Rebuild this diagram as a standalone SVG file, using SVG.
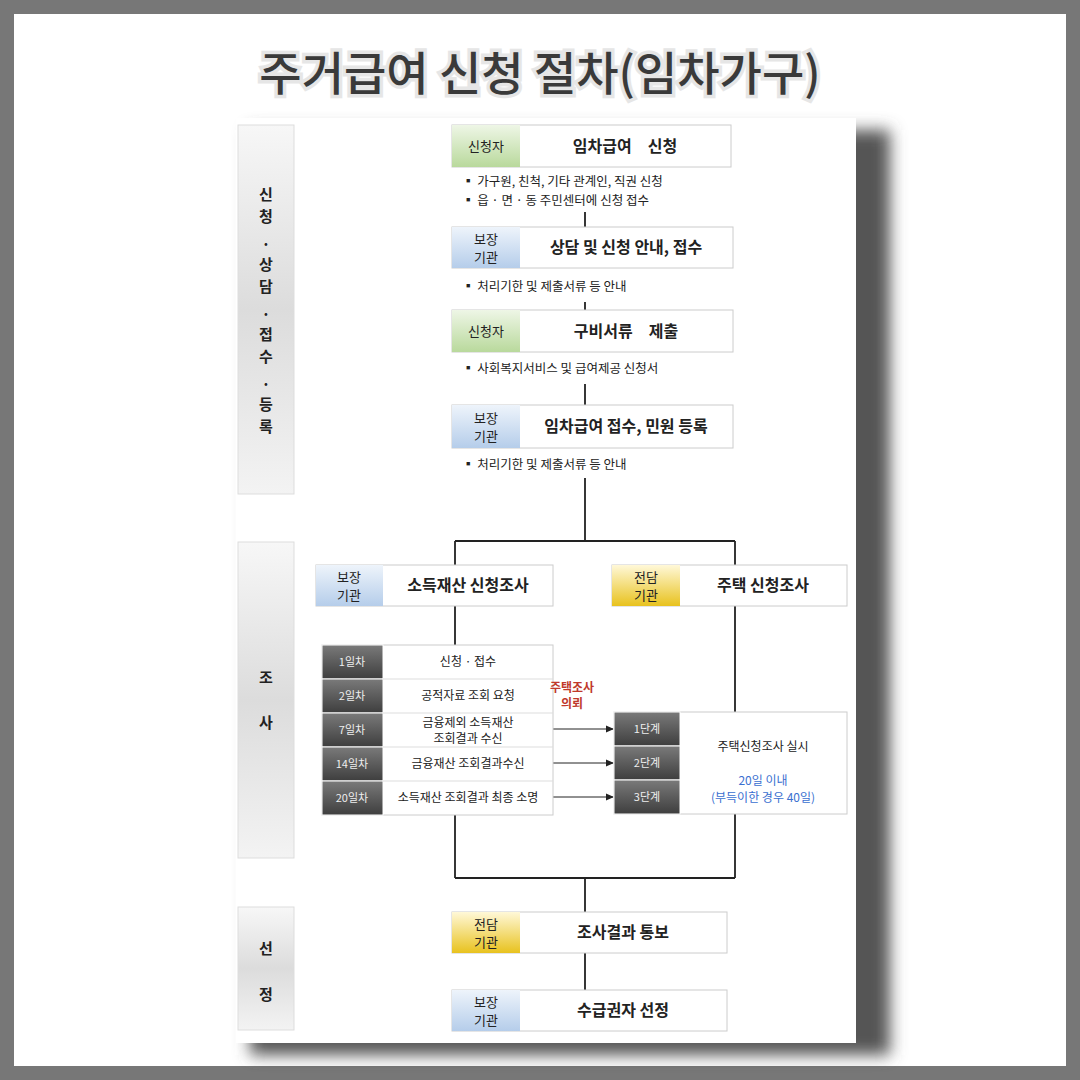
<svg xmlns="http://www.w3.org/2000/svg" width="1080" height="1080" viewBox="0 0 1080 1080">
<defs>
<linearGradient id="gG" x1="0" y1="0" x2="0" y2="1"><stop offset="0" stop-color="#eef6e6"/><stop offset="1" stop-color="#b9d99c"/></linearGradient>
<linearGradient id="gB" x1="0" y1="0" x2="0" y2="1"><stop offset="0" stop-color="#eef4fb"/><stop offset="1" stop-color="#b5cdea"/></linearGradient>
<linearGradient id="gY" x1="0" y1="0" x2="0" y2="1"><stop offset="0" stop-color="#fff8d8"/><stop offset="1" stop-color="#e8c21e"/></linearGradient>
<linearGradient id="gD" x1="0" y1="0" x2="0" y2="1"><stop offset="0" stop-color="#7a7a7a"/><stop offset="1" stop-color="#3e3e3e"/></linearGradient>
<linearGradient id="gP" x1="0" y1="0" x2="0" y2="1"><stop offset="0" stop-color="#f7f7f7"/><stop offset="0.5" stop-color="#dcdcdc"/><stop offset="1" stop-color="#f3f3f3"/></linearGradient>
<filter id="sh" x="-10%" y="-10%" width="130%" height="130%"><feGaussianBlur stdDeviation="8"/></filter>
<marker id="ar" markerWidth="8" markerHeight="8" refX="7" refY="4" orient="auto" markerUnits="userSpaceOnUse"><path d="M0,0.5 L8,4 L0,7.5z" fill="#222"/></marker>
</defs>
<style>
text{font-family:"Noto Sans CJK KR","Noto Sans",sans-serif;fill:#222}
.bx{fill:#fff;stroke:#ccc;stroke-width:1}
.m{font-size:16px;font-weight:bold;text-anchor:middle}
.l{font-size:13px;text-anchor:middle}
.b{font-size:12.5px}
.ph{font-size:15px;font-weight:bold;text-anchor:middle}
.t{font-size:12px;text-anchor:middle}
.d{font-size:11px;text-anchor:middle;fill:#eee}
.ln{stroke:#222;stroke-width:1.8;fill:none}
.ar{stroke:#222;stroke-width:1;fill:none;marker-end:url(#ar)}
</style>
<rect width="1080" height="1080" fill="#777"/>
<rect x="14" y="14" width="1052" height="1052" fill="#fff"/>
<text x="540" y="90" font-size="46" font-weight="500" text-anchor="middle" fill="#3a3a3a" stroke="#e6e6e6" stroke-width="7" paint-order="stroke" style="fill:#3a3a3a">주거급여 신청 절차(임차가구)</text>
<rect x="250" y="130" width="640" height="925" fill="#555" filter="url(#sh)"/>
<rect x="236" y="118" width="620" height="925" fill="#fff"/>

<g id="phase1"><rect x="238" y="125" width="56" height="369" fill="url(#gP)" stroke="#ddd"/>
<text class="ph" x="266" y="200">신</text><text class="ph" x="266" y="222">청</text><text class="ph" x="266" y="250">·</text><text class="ph" x="266" y="270">상</text><text class="ph" x="266" y="292">담</text><text class="ph" x="266" y="320">·</text><text class="ph" x="266" y="340">접</text><text class="ph" x="266" y="362">수</text><text class="ph" x="266" y="390">·</text><text class="ph" x="266" y="410">등</text><text class="ph" x="266" y="432">록</text></g>
<g id="phase2"><rect x="238" y="542" width="56" height="316" fill="url(#gP)" stroke="#ddd"/>
<text class="ph" x="266" y="683">조</text><text class="ph" x="266" y="728">사</text></g>
<g id="phase3"><rect x="238" y="907" width="56" height="123" fill="url(#gP)" stroke="#ddd"/>
<text class="ph" x="266" y="954">선</text><text class="ph" x="266" y="1000">정</text></g>

<g id="connectors">
<path class="ln" d="M585 212V227M585 302V310M585 384V405M585 478V541M455 541H735M455 541V565M735 541V565M455 606V645M735 606V712M455 815V878M735 814V878M455 878H735M585 878V912M585 953V990"/>
<path class="ar" d="M553 729H613"/><path class="ar" d="M553 763H613"/><path class="ar" d="M553 797H613"/>
</g>

<g id="n1"><rect class="bx" x="452" y="125" width="279" height="42"/><rect x="452" y="125" width="68" height="42" fill="url(#gG)"/>
<text class="l" x="486" y="151">신청자</text><text class="m" x="625" y="152">임차급여　신청</text>
<text class="b" x="462" y="186">▪  가구원, 친척, 기타 관계인, 직권 신청</text><text class="b" x="462" y="205">▪  읍 · 면 · 동 주민센터에 신청 접수</text></g>
<g id="n2"><rect class="bx" x="452" y="227" width="281" height="41"/><rect x="452" y="227" width="68" height="41" fill="url(#gB)"/>
<text class="l" x="486" y="244">보장</text><text class="l" x="486" y="262">기관</text><text class="m" x="626" y="253">상담 및 신청 안내, 접수</text>
<text class="b" x="462" y="291">▪  처리기한 및 제출서류 등 안내</text></g>
<g id="n3"><rect class="bx" x="452" y="310" width="281" height="42"/><rect x="452" y="310" width="68" height="42" fill="url(#gG)"/>
<text class="l" x="486" y="336">신청자</text><text class="m" x="626" y="337">구비서류　제출</text>
<text class="b" x="462" y="373">▪  사회복지서비스 및 급여제공 신청서</text></g>
<g id="n4"><rect class="bx" x="452" y="405" width="281" height="43"/><rect x="452" y="405" width="68" height="43" fill="url(#gB)"/>
<text class="l" x="486" y="423">보장</text><text class="l" x="486" y="441">기관</text><text class="m" x="626" y="432">임차급여 접수, 민원 등록</text>
<text class="b" x="462" y="469">▪  처리기한 및 제출서류 등 안내</text></g>

<g id="n5"><rect class="bx" x="316" y="565" width="237" height="41"/><rect x="316" y="565" width="67" height="41" fill="url(#gB)"/>
<text class="l" x="349" y="582">보장</text><text class="l" x="349" y="600">기관</text><text class="m" x="468" y="591">소득재산 신청조사</text></g>
<g id="n6"><rect class="bx" x="612" y="565" width="235" height="41"/><rect x="612" y="565" width="68" height="41" fill="url(#gY)"/>
<text class="l" x="646" y="582">전담</text><text class="l" x="646" y="600">기관</text><text class="m" x="763" y="591">주택 신청조사</text></g>

<g id="table1">
<rect class="bx" x="322" y="645" width="231" height="170"/>
<rect x="322" y="645" width="61" height="34" fill="url(#gD)" stroke="#fff"/><rect x="322" y="679" width="61" height="34" fill="url(#gD)" stroke="#fff"/><rect x="322" y="713" width="61" height="34" fill="url(#gD)" stroke="#fff"/><rect x="322" y="747" width="61" height="34" fill="url(#gD)" stroke="#fff"/><rect x="322" y="781" width="61" height="34" fill="url(#gD)" stroke="#fff"/>
<path d="M383 679H553M383 713H553M383 747H553M383 781H553" stroke="#ddd"/>
<text class="d" x="352" y="666">1일차</text><text class="d" x="352" y="700">2일차</text><text class="d" x="352" y="734">7일차</text><text class="d" x="352" y="768">14일차</text><text class="d" x="352" y="802">20일차</text>
<text class="t" x="468" y="666">신청 · 접수</text><text class="t" x="468" y="700">공적자료 조회 요청</text><text class="t" x="468" y="727">금융제외 소득재산</text><text class="t" x="468" y="743">조회결과 수신</text><text class="t" x="468" y="768">금융재산 조회결과수신</text><text class="t" x="468" y="802">소득재산 조회결과 최종 소명</text>
</g>
<text x="572" y="692" font-size="12" font-weight="bold" text-anchor="middle" style="fill:#c0392b">주택조사</text>
<text x="572" y="708" font-size="12" font-weight="bold" text-anchor="middle" style="fill:#c0392b">의뢰</text>

<g id="table2">
<rect class="bx" x="614" y="712" width="233" height="102"/>
<rect x="614" y="712" width="66" height="34" fill="url(#gD)" stroke="#fff"/><rect x="614" y="746" width="66" height="34" fill="url(#gD)" stroke="#fff"/><rect x="614" y="780" width="66" height="34" fill="url(#gD)" stroke="#fff"/>
<text class="d" x="647" y="733">1단계</text><text class="d" x="647" y="767">2단계</text><text class="d" x="647" y="801">3단계</text>
<text class="t" x="763" y="751">주택신청조사 실시</text>
<text class="t" x="763" y="785" style="fill:#3a6fd0">20일 이내</text><text class="t" x="763" y="802" style="fill:#3a6fd0">(부득이한 경우 40일)</text>
</g>

<g id="n7"><rect class="bx" x="452" y="912" width="275" height="41"/><rect x="452" y="912" width="68" height="41" fill="url(#gY)"/>
<text class="l" x="486" y="929">전담</text><text class="l" x="486" y="947">기관</text><text class="m" x="623" y="938">조사결과 통보</text></g>
<g id="n8"><rect class="bx" x="452" y="990" width="275" height="41"/><rect x="452" y="990" width="68" height="41" fill="url(#gB)"/>
<text class="l" x="486" y="1007">보장</text><text class="l" x="486" y="1025">기관</text><text class="m" x="623" y="1016">수급권자 선정</text></g>
</svg>
